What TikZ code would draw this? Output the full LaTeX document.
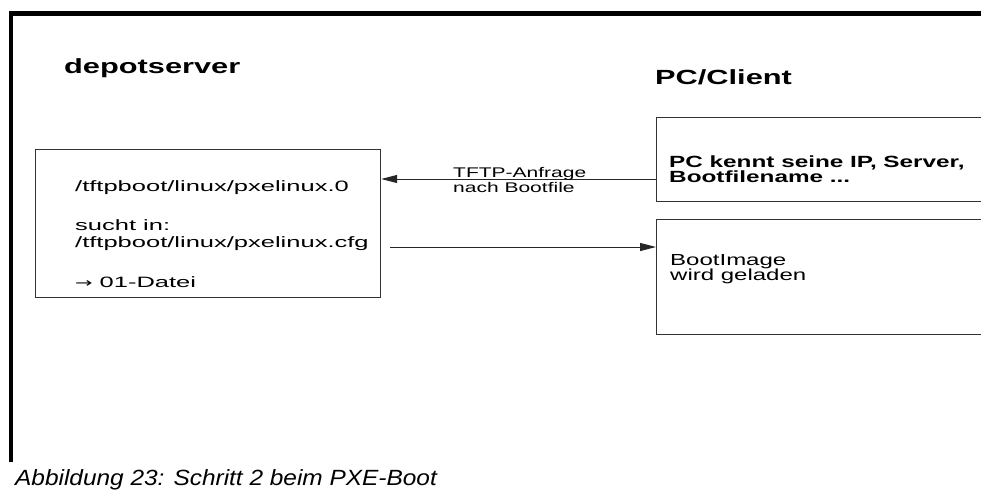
\documentclass[tikz,border=0pt]{standalone}
\usepackage{fontspec}
\setmainfont{Liberation Sans}[FakeStretch=1.5]
\newfontfamily\bodyfont{Liberation Sans}[FakeStretch=1.7]
\newfontfamily\capfont{Liberation Sans}[FakeStretch=1.11]
\newfontfamily\symfont{DejaVu Sans}[FakeStretch=1.6]
\usetikzlibrary{arrows.meta}
\tikzset{
  box/.style={draw=black!80, line width=1.2pt, anchor=north west, inner sep=0pt},
  frame/.style={line width=4.5pt, black},
  arr/.style={line width=1pt, black!85, -{Triangle[length=16pt,width=8pt]}},
  txt/.style={anchor=base west, inner sep=0pt, align=left},
  head/.style={txt, font=\fontsize{20.5}{24}\selectfont\bfseries},
  body/.style={txt, font=\fontsize{15}{17}\selectfont\bodyfont},
  cl/.style={txt, font=\fontsize{16}{15}\selectfont},
  clb/.style={txt, font=\fontsize{16.2}{15}\selectfont\bfseries},
  lbl/.style={txt, font=\fontsize{14}{15}\selectfont},
  captxt/.style={txt, font=\fontsize{22}{24}\selectfont\capfont\itshape}
}
\begin{document}
\begin{tikzpicture}[x=1pt, y=-1pt]
\useasboundingbox (0,0) rectangle (981,490);
\clip (0,0) rectangle (981,490);
\fill[white] (0,0) rectangle (981,490);
% frame
\draw[frame] (11,462) -- (11,13.5) -- (990,13.5);
% headings
\node[head] (hsrv) at (64,73) {depotserver};
\node[head] (hcl) at (655,84) {PC/Client};
% server box
\node[box, minimum width=345pt, minimum height=148pt] (srv) at (35,149) {};
\node[body] (t1) at (75,191) {/tftpboot/linux/pxelinux.0};
\node[body] (t2) at (75,247) {sucht in:\\/tftpboot/linux/pxelinux.cfg};
\node[body] (t3) at (75,287) {{\symfont\fontsize{13}{17}\selectfont →} 01-Datei};
% client boxes
\node[box, minimum width=360pt, minimum height=84pt] (cl1) at (656,117) {};
\node[clb] (c1t) at (669,182) {PC kennt seine IP, Server,\\Bootfilename ...};
\node[box, minimum width=360pt, minimum height=115pt] (cl2) at (656,219) {};
\node[cl] (c2t) at (670,280) {BootImage\\wird geladen};
% arrows
\coordinate (a1) at (cl1.west |- 0,179);
\draw[arr] (a1) -- (a1 -| srv.east);
\node[lbl] (l1) at (453,192) {TFTP-Anfrage\\nach Bootfile};
\coordinate (a2) at (390,247);
\draw[arr] (a2) -- (a2 -| cl2.west);
% caption
\node[captxt] (capt) at (15,485) {Abbildung 23: Schritt 2 beim PXE-Boot};
\end{tikzpicture}
\end{document}
